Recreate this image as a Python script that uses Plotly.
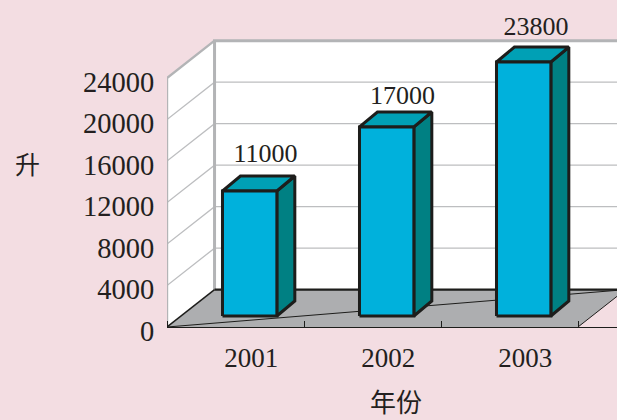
import plotly.graph_objects as go

years = ["2001", "2002", "2003"]
values = [11000, 17000, 23800]          # printed labels
drawn_heights = [12050, 18220, 24480]   # heights
y_ticks = [0, 4000, 8000, 12000, 16000, 20000, 24000]
label_lift = [1930, 1350, 1830]         # gap above each bar's top
label_nudge = [0.115, 0.115, 0.09]

BG = "#f3dde2"
WALL_GREY = "#b3b4b6"
FLOOR = "#adaeb0"
INK = "#1d1d1b"
TXT = "#231f20"
FRONT, SIDE, TOP = "#00b1dc", "#008083", "#00a0b5"

# oblique projection in axis units
DX, DY = 0.347, 3600        # wall depth
BDX, BDY = 0.131, 1445      # bar depth
B_LEFT, B_W, B_BASE = 0.405, 0.397, 1060
N = len(years)
Y_MAX = 24000

fig = go.Figure()

def poly(xs, ys, fill=None, color=None, width=0, name=""):
    fig.add_trace(go.Scatter(
        x=xs, y=ys, mode="lines", hoverinfo="skip", showlegend=False, name=name,
        fill="toself" if fill else "none", fillcolor=fill,
        line=dict(color=color or "rgba(0,0,0,0)", width=width, simplify=False),
    ))

# floor, back wall, side wall
poly([0, N, N + DX, DX, 0], [0, 0, DY, DY, 0], fill=FLOOR, name="floor")
poly([DX, N + DX, N + DX, DX, DX], [DY, DY, Y_MAX + DY, Y_MAX + DY, DY], fill="white", name="back wall")
poly([0, DX, DX, 0, 0], [0, DY, Y_MAX + DY, Y_MAX, 0], fill="white", name="side wall")

# gridlines
for v in y_ticks[1:-1]:
    poly([0, DX, N + DX], [v, v + DY, v + DY], color="#bdbec0", width=1.3, name="grid")

# wall outlines
poly([DX, DX, N + DX], [DY, Y_MAX + DY, Y_MAX + DY], color=WALL_GREY, width=3, name="wall edge")
poly([0, 0, DX], [0, Y_MAX, Y_MAX + DY], color=WALL_GREY, width=2.4, name="side edge")

# floor lines
poly([0, DX], [0, DY], color=INK, width=1.5, name="floor left")
poly([DX, N + DX], [DY, DY], color=INK, width=2.2, name="floor back")
poly([0, N + DX], [0, DY], color=INK, width=1, name="floor diagonal")
poly([N, N + DX], [0, DY], color=INK, width=1, name="floor right")

# bars
for i, h in enumerate(drawn_heights):
    l, r = i + B_LEFT, i + B_LEFT + B_W
    b, t = B_BASE, B_BASE + h
    poly([r, r + BDX, r + BDX, r, r], [b, b + BDY, t + BDY, t, b], fill=SIDE, color=INK, width=3, name="bar side")
    poly([l, r, r + BDX, l + BDX, l], [t, t, t + BDY, t + BDY, t], fill=TOP, color=INK, width=3, name="bar top")
    poly([l, r, r, l, l], [b, b, t, t, b], fill=FRONT, color=INK, width=3, name=years[i])

# value labels
fig.add_trace(go.Scatter(
    x=[i + B_LEFT + B_W / 2 + label_nudge[i] for i in range(N)],
    y=[B_BASE + h + BDY + label_lift[i] for i, h in enumerate(drawn_heights)],
    mode="text", text=[str(v) for v in values], textposition="middle center",
    textfont=dict(family="Liberation Serif", size=26, color=TXT),
    hoverinfo="skip", showlegend=False, cliponaxis=False,
))

fig.add_annotation(xref="paper", yref="paper", x=27 / 617, y=1 - 163 / 420,
                   xanchor="center", yanchor="middle", text="升", showarrow=False,
                   font=dict(family="Noto Sans CJK SC", size=25, color=TXT))
fig.add_annotation(xref="paper", yref="paper", x=396 / 617, y=1 - 400 / 420,
                   xanchor="center", yanchor="middle", text="年份", showarrow=False,
                   font=dict(family="Noto Sans CJK SC", size=26, color=TXT))

fig.update_layout(
    width=617, height=420, autosize=False,
    margin=dict(l=0, r=0, t=0, b=0),
    paper_bgcolor=BG, plot_bgcolor=BG, showlegend=False,
    xaxis=dict(
        automargin=False,
        domain=[167 / 617, 1], range=[0, 450 / 137],
        tickmode="array", tickvals=[i + 0.615 for i in range(N)], ticktext=years,
        ticks="outside", ticklen=6, tickcolor="rgba(0,0,0,0)",
        minor=dict(tickmode="array", tickvals=list(range(N + 1)), ticks="inside",
                   ticklen=6, tickcolor=INK, tickwidth=1, showgrid=False),
        tickfont=dict(family="Liberation Serif", size=27, color=TXT),
        showline=True, linecolor=INK, linewidth=1.2, showgrid=False, zeroline=False,
    ),
    yaxis=dict(
        automargin=False,
        domain=[93 / 420, 1], range=[0, 327 / 0.010375],
        tickmode="array", tickvals=y_ticks, ticktext=[str(v) for v in y_ticks],
        ticks="outside", ticklen=6, tickcolor="rgba(0,0,0,0)", ticklabelshift=4,
        tickfont=dict(family="Liberation Serif", size=28.5, color=TXT),
        showline=False, showgrid=False, zeroline=False,
    ),
)

fig.write_html("out.html", config={"displayModeBar": False}, post_script=(
    "document.documentElement.style.margin='0';document.body.style.margin='0';"
    "document.body.style.overflow='hidden';window.scrollTo(0,0);"
))
